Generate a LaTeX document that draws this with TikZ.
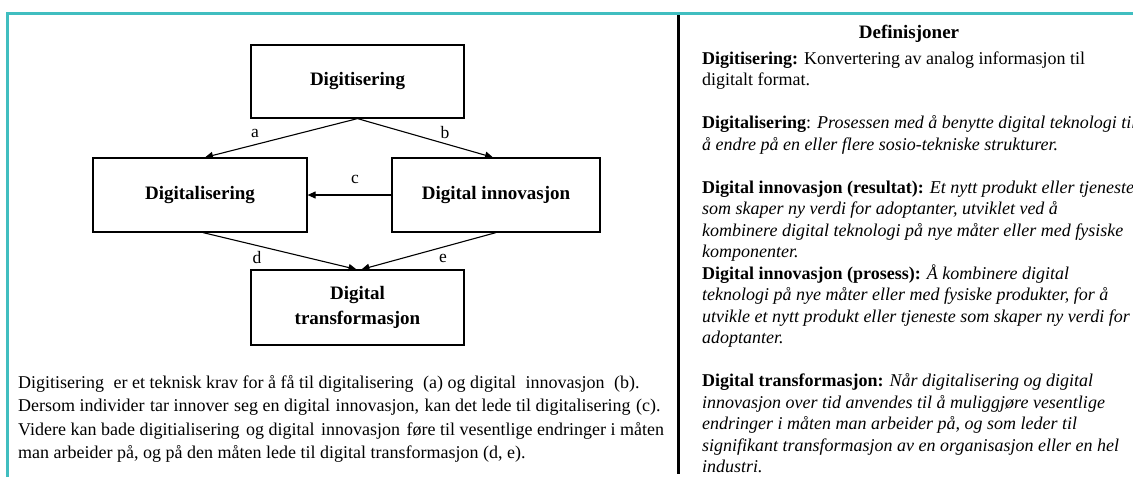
\documentclass[tikz,border=0pt]{standalone}
\usepackage{fontspec}
\setmainfont{Liberation Serif}
\usetikzlibrary{arrows.meta}
\definecolor{tealline}{RGB}{64,190,192}
\newcommand{\xsp}[1]{\hspace{#1pt}}
\begin{document}
\begin{tikzpicture}[x=1pt,y=-1pt,
  box/.style={draw, line width=1.2pt, inner sep=0pt, align=center,
    font=\fontsize{19}{25}\selectfont\bfseries},
  arr/.style={-{Triangle[length=8pt,width=7pt]}, line width=1.1pt},
  lbl/.style={font=\fontsize{17.5}{20}\selectfont, inner sep=0pt},
  para/.style={anchor=base west, inner sep=0pt, font=\fontsize{18}{20}\selectfont},
  defn/.style={anchor=base west, inner sep=0pt, font=\fontsize{18}{20}\selectfont}]
\useasboundingbox (0,0) rectangle (1133,477);
\fill[white] (0,0) rectangle (1133,477);
\draw[tealline, line width=2.5pt] (7.5,477) -- (7.5,13.5) -- (1133,13.5);
\draw[line width=3pt] (678,15) -- (678,474);

% boxes
\node[box, minimum width=213pt, minimum height=73pt] (dgt) at (357.5,81.5) {Digitisering};
\node[box, minimum width=214pt, minimum height=74pt] (dgl) at (200,195) {Digitalisering};
\node[box, minimum width=208pt, minimum height=74pt] (din) at (496,195) {Digital innovasjon};
\node[box, minimum width=213pt, minimum height=75pt] (dtf) at (357.5,307.5) {Digital\\transformasjon};

% connectors
\draw[arr] (dgt.south) -- ([xshift=5pt]dgl.north);
\draw[arr] (dgt.south) -- ([xshift=-3pt]din.north);
\draw[arr] (din.west) -- (dgl.east);
\draw[arr] ([xshift=3pt]dgl.south) -- ([xshift=-1pt]dtf.north);
\draw[arr] (din.south) -- ([xshift=4pt]dtf.north);

% connector labels
\node[lbl] (la) at (255,133) {a};
\node[lbl] (lb) at (445,133) {b};
\node[lbl] (lc) at (355,179) {c};
\node[lbl] (ld) at (257,258) {d};
\node[lbl] (le) at (443,258) {e};

% paragraph
\node[para] (p1) at (18,388) {Digitisering\xsp{5} er et teknisk krav for å få til digitalisering\xsp{5} (a) og digital\xsp{5} innovasjon\xsp{5} (b).};
\node[para] (p2) at (18,411.5) {Dersom individer\xsp{1} tar innover\xsp{1} seg en digital\xsp{1} innovasjon,\xsp{1} kan det lede til digitalisering\xsp{1} (c).};
\node[para] (p3) at (18,435) {Videre kan bade digitialisering\xsp{2} og digital\xsp{2} innovasjon\xsp{2} føre til vesentlige endringer i måten};
\node[para] (p4) at (18,458.5) {man arbeider på, og på den måten lede til digital transformasjon (d, e).};

% definitions
\begin{scope}
\clip (680,0) rectangle (1133,477);
\node[anchor=base, inner sep=0pt, font=\fontsize{19}{20}\selectfont\bfseries] (title) at (909,38) {Definisjoner};
\node[defn] (d0) at (702,64) {\textbf{Digitisering:} Konvertering av analog informasjon til};
\node[defn] (d1) at (702,85.5) {digitalt format.};
\node[defn] (d3) at (702,128.5) {\textbf{Digitalisering}: \textit{Prosessen med å benytte digital teknologi til}};
\node[defn] (d4) at (702,150) {\textit{å endre på en eller flere sosio-tekniske strukturer.}};
\node[defn] (d6) at (702,193) {\textbf{Digital innovasjon (resultat):} \textit{Et nytt produkt eller tjeneste}};
\node[defn] (d7) at (702,214.5) {\textit{som skaper ny verdi for adoptanter, utviklet ved å}};
\node[defn] (d8) at (702,236) {\textit{kombinere digital teknologi på nye måter eller med fysiske}};
\node[defn] (d9) at (702,257.5) {\textit{komponenter.}};
\node[defn] (d10) at (702,279) {\textbf{Digital innovasjon (prosess):} \textit{Å kombinere digital}};
\node[defn] (d11) at (702,300.5) {\textit{teknologi på nye måter eller med fysiske produkter, for å}};
\node[defn] (d12) at (702,322) {\textit{utvikle et nytt produkt eller tjeneste som skaper ny verdi for}};
\node[defn] (d13) at (702,343.5) {\textit{adoptanter.}};
\node[defn] (d15) at (702,386.5) {\textbf{Digital transformasjon:} \textit{Når digitalisering og digital}};
\node[defn] (d16) at (702,408) {\textit{innovasjon over tid anvendes til å muliggjøre vesentlige}};
\node[defn] (d17) at (702,429.5) {\textit{endringer i måten man arbeider på, og som leder til}};
\node[defn] (d18) at (702,451) {\textit{signifikant transformasjon av en organisasjon eller en hel}};
\node[defn] (d19) at (702,472.5) {\textit{industri.}};
\end{scope}
\end{tikzpicture}
\end{document}
